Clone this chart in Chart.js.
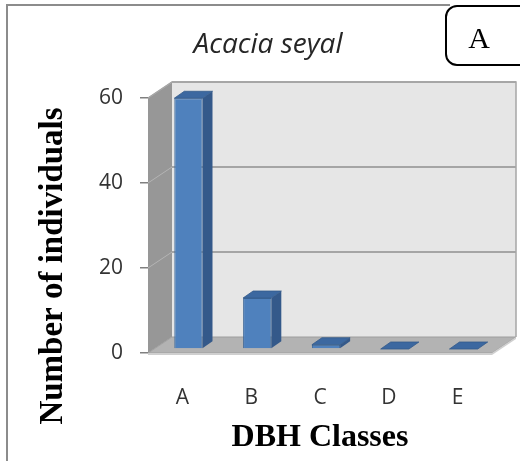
<!DOCTYPE html>
<html>
<head>
<meta charset="utf-8">
<script src="https://cdn.jsdelivr.net/npm/chart.js@4/dist/chart.umd.min.js"></script>
<style>
  html, body { margin: 0; padding: 0; background: #ffffff; }
  #wrap { width: 520px; height: 461px; }
</style>
</head>
<body>
<div id="wrap"><canvas id="chart" width="520" height="461"></canvas></div>
<script>
// DBH class counts for Acacia seyal
const categories = ['A', 'B', 'C', 'D', 'E'];
const individuals = [59, 12, 1, 0, 0];
const yTicks = [0, 20, 40, 60];

const chartTitle = 'Acacia seyal';
const yTitle = 'Number of individuals';
const xTitle = 'DBH Classes';
const panelLabel = 'A';

// 3D look: depth of the walls and of each bar, in pixels
const WALL_DX = 24, WALL_DY = -16;
const BAR_SHIFT_X = 6, BAR_SHIFT_Y = -4;
const BAR_DX = 10, BAR_DY = -7;

const frame3d = {
  id: 'frame3d',
  beforeDraw(chart) {
    const { ctx, chartArea: a, scales } = chart;
    const y = scales.y;
    ctx.save();
    // outer frame
    ctx.strokeStyle = '#8c8c8c';
    ctx.lineWidth = 2;
    ctx.beginPath();
    ctx.moveTo(7, 461);
    ctx.lineTo(7, 5);
    ctx.lineTo(450, 5);
    ctx.stroke();

    // back wall
    const bl = a.left + WALL_DX, br = a.right + WALL_DX;
    const bt = a.top + WALL_DY, bb = a.bottom + WALL_DY;
    ctx.fillStyle = '#e6e6e6';
    ctx.fillRect(bl, bt, br - bl, bb - bt);
    // side wall
    ctx.fillStyle = '#979797';
    ctx.beginPath();
    ctx.moveTo(a.left, a.top);
    ctx.lineTo(bl, bt);
    ctx.lineTo(bl, bb);
    ctx.lineTo(a.left, a.bottom);
    ctx.closePath();
    ctx.fill();
    // gridlines on back and side walls
    yTicks.forEach(v => {
      const py = y.getPixelForValue(v);
      if (v === 0) return;
      ctx.strokeStyle = '#8f8f8f';
      ctx.lineWidth = 1.5;
      ctx.beginPath();
      ctx.moveTo(bl, py + WALL_DY);
      ctx.lineTo(br, py + WALL_DY);
      ctx.stroke();
      ctx.strokeStyle = '#b4b4b4';
      ctx.lineWidth = 1;
      ctx.beginPath();
      ctx.moveTo(a.left, py);
      ctx.lineTo(bl, py + WALL_DY);
      ctx.stroke();
    });
    // floor
    ctx.fillStyle = '#b3b3b3';
    ctx.beginPath();
    ctx.moveTo(a.left, a.bottom);
    ctx.lineTo(a.right, a.bottom);
    ctx.lineTo(br, bb);
    ctx.lineTo(bl, bb);
    ctx.closePath();
    ctx.fill();
    ctx.strokeStyle = '#9e9e9e';
    ctx.lineWidth = 1;
    ctx.stroke();
    ctx.fillStyle = '#cfcfcf';
    ctx.beginPath();
    ctx.moveTo(a.left, a.bottom);
    ctx.lineTo(a.right, a.bottom);
    ctx.lineTo(br, bb);
    ctx.lineTo(br, bb + 2);
    ctx.lineTo(a.right, a.bottom + 2);
    ctx.lineTo(a.left, a.bottom + 2);
    ctx.closePath();
    ctx.fill();
    // back wall edge
    ctx.strokeStyle = '#a6a6a6';
    ctx.lineWidth = 1.5;
    ctx.beginPath();
    ctx.moveTo(a.left, a.top);
    ctx.lineTo(bl, bt);
    ctx.lineTo(br, bt);
    ctx.lineTo(br, bb);
    ctx.stroke();

    // chart title
    ctx.fillStyle = '#262626';
    ctx.font = 'italic 28px "Open Sans"';
    ctx.textAlign = 'center';
    ctx.textBaseline = 'alphabetic';
    ctx.fillText(chartTitle, 268, 53);

    // y axis title
    ctx.save();
    ctx.translate(53, 266);
    ctx.rotate(-Math.PI / 2);
    ctx.fillStyle = '#000000';
    ctx.font = 'bold 33px "Liberation Serif"';
    ctx.textAlign = 'center';
    ctx.textBaseline = 'middle';
    ctx.fillText(yTitle, 0, 0);
    ctx.restore();

    // panel label box
    ctx.fillStyle = '#ffffff';
    ctx.strokeStyle = '#000000';
    ctx.lineWidth = 2;
    ctx.beginPath();
    ctx.roundRect(446, 6, 90, 59, 11);
    ctx.fill();
    ctx.stroke();
    ctx.fillStyle = '#000000';
    ctx.font = '30px "Liberation Serif"';
    ctx.textAlign = 'center';
    ctx.textBaseline = 'alphabetic';
    ctx.fillText(panelLabel, 479, 48);
    ctx.restore();
  },
  beforeDatasetsDraw(chart) {
    chart.ctx.save();
    chart.ctx.translate(BAR_SHIFT_X, BAR_SHIFT_Y);
  },
  afterDatasetsDraw(chart) {
    const ctx = chart.ctx;
    const meta = chart.getDatasetMeta(0);
    meta.data.forEach(bar => {
      const { x, y, base, width } = bar.getProps(['x', 'y', 'base', 'width'], true);
      const x1 = x - width / 2, x2 = x + width / 2;
      // side face
      ctx.fillStyle = '#34598a';
      ctx.beginPath();
      ctx.moveTo(x2, y);
      ctx.lineTo(x2 + BAR_DX, y + BAR_DY);
      ctx.lineTo(x2 + BAR_DX, base + BAR_DY);
      ctx.lineTo(x2, base);
      ctx.closePath();
      ctx.fill();
      // top face
      ctx.fillStyle = '#3c68a0';
      ctx.beginPath();
      ctx.moveTo(x1, y);
      ctx.lineTo(x2, y);
      ctx.lineTo(x2 + BAR_DX, y + BAR_DY);
      ctx.lineTo(x1 + BAR_DX, y + BAR_DY);
      ctx.closePath();
      ctx.fill();
      ctx.strokeStyle = '#335a8a';
      ctx.lineWidth = 0.8;
      ctx.stroke();
    });
    ctx.restore();
  }
};

new Chart(document.getElementById('chart'), {
  type: 'bar',
  data: {
    labels: categories,
    datasets: [{
      data: individuals,
      backgroundColor: '#4f81bd',
      borderColor: '#3d6798',
      borderWidth: 1,
      categoryPercentage: 1,
      barPercentage: 0.41
    }]
  },
  options: {
    responsive: false,
    animation: false,
    events: [],
    layout: { padding: { left: 0, right: 28, top: 98, bottom: 0 } },
    plugins: {
      legend: { display: false },
      title: { display: false },
      tooltip: { enabled: false }
    },
    scales: {
      x: {
        grid: { display: false },
        border: { display: false },
        ticks: {
          color: '#333333',
          font: { family: 'Open Sans', size: 21 },
          padding: 24
        },
        title: {
          display: true,
          text: xTitle,
          color: '#000000',
          font: { family: 'Liberation Serif', size: 32, weight: 'bold' },
          padding: { top: 0, bottom: 4 }
        },
        afterFit(scale) { scale.height = 108; }
      },
      y: {
        min: 0,
        max: 60,
        afterBuildTicks(scale) { scale.ticks = yTicks.map(v => ({ value: v })); },
        grid: {
          drawOnChartArea: false,
          drawTicks: true,
          tickLength: 8,
          color: '#808080',
          lineWidth: 1.5
        },
        border: { display: false },
        ticks: {
          color: '#333333',
          font: { family: 'Open Sans', size: 21 },
          padding: 17
        },
        afterFit(scale) { scale.width = 148; }
      }
    }
  },
  plugins: [frame3d]
});
</script>
</body>
</html>
